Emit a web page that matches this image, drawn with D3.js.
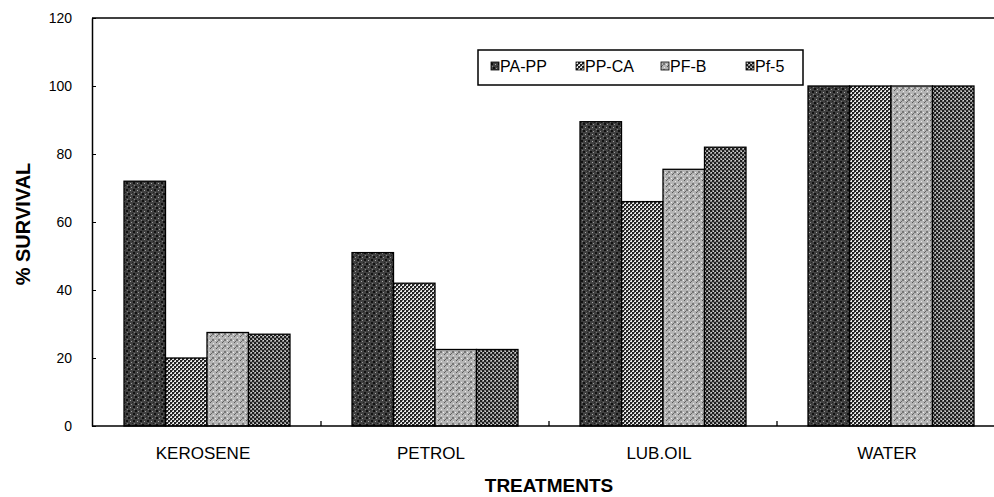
<!DOCTYPE html>
<html>
<head>
<meta charset="utf-8">
<script src="https://cdn.jsdelivr.net/npm/d3@7"></script>
<style>
  body { margin: 0; background: #fff; }
  svg { display: block; font-family: "Liberation Sans", Arial, sans-serif; }
</style>
</head>
<body>
<div id="chart"></div>
<script>
// data
var categories = ["KEROSENE", "PETROL", "LUB.OIL", "WATER"];
var series = ["PA-PP", "PP-CA", "PF-B", "Pf-5"];
var paPP = [72, 51, 89.5, 100];
var ppCA = [20, 42, 66, 100];
var pfB  = [27.5, 22.5, 75.5, 100];
var pf5  = [27, 22.5, 82, 100];
var yTicks = [0, 20, 40, 60, 80, 100, 120];

var values = [paPP, ppCA, pfB, pf5];
var rows = [];
categories.forEach(function (c, i) {
  series.forEach(function (s, j) {
    rows.push({cat: c, ser: s, val: values[j][i]});
  });
});

var W = 994, H = 497;
var svg = d3.select("#chart").append("svg").attr("width", W).attr("height", H);

// grey stipple fills, like the scanned print
var defs = svg.append("defs");
function pattern(id, base, size, dots) {
  var p = defs.append("pattern").attr("id", id)
    .attr("patternUnits", "userSpaceOnUse").attr("width", size).attr("height", size);
  p.append("rect").attr("width", size).attr("height", size).attr("fill", base);
  dots.forEach(function (d) {
    p.append("rect").attr("x", d[0]).attr("y", d[1]).attr("width", d[2]).attr("height", d[2]).attr("fill", d[3]);
  });
}
pattern("p0", "#404040", 7, [[0,0,2,"#111"],[4,1,1,"#aaa"],[2,4,2,"#111"],[5,5,1,"#999"],[1,3,1,"#808080"],[6,3,1,"#222"]]);
pattern("p1", "#e6e6e6", 4, [[0,0,2,"#222"],[2,2,2,"#222"],[2,0,1,"#666"],[0,2,1,"#666"]]);
pattern("p2", "#b4b4b4", 6, [[0,0,1,"#555"],[3,1,1,"#e8e8e8"],[2,3,2,"#777"],[5,4,1,"#eee"],[1,5,1,"#666"]]);
pattern("p3", "#8a8a8a", 4, [[0,0,2,"#1e1e1e"],[2,2,2,"#1e1e1e"],[3,0,1,"#cfcfcf"],[1,3,1,"#cfcfcf"]]);
var fills = {"PA-PP": "url(#p0)", "PP-CA": "url(#p1)", "PF-B": "url(#p2)", "Pf-5": "url(#p3)"};

var x0 = d3.scaleBand().domain(categories).range([93, 1005])
  .paddingInner(0.272).paddingOuter(0.136);
var x1 = d3.scaleBand().domain(series).range([0, x0.bandwidth()]);
var y = d3.scaleLinear().domain([0, 120]).range([426, 18]);

// bars
svg.append("g").selectAll("rect").data(rows).enter().append("rect")
  .attr("x", function (d) { return x0(d.cat) + x1(d.ser); })
  .attr("y", function (d) { return y(d.val); })
  .attr("width", x1.bandwidth())
  .attr("height", function (d) { return y(0) - y(d.val); })
  .attr("fill", function (d) { return fills[d.ser]; })
  .attr("stroke", "#000").attr("stroke-width", 1.3);

// frame: top line and axes
svg.append("line").attr("x1", 92).attr("x2", W).attr("y1", y(120)).attr("y2", y(120))
  .attr("stroke", "#000").attr("stroke-width", 1.5);

var yAxis = svg.append("g").attr("transform", "translate(92,0)")
  .call(d3.axisLeft(y).tickValues(yTicks).tickSize(-4).tickSizeOuter(0).tickPadding(20));
yAxis.select(".domain").attr("stroke-width", 1.5);
yAxis.selectAll("text").attr("font-size", "14px").attr("fill", "#000")
  .attr("font-family", "'Liberation Sans', Arial, sans-serif");

svg.append("line").attr("x1", 92).attr("x2", W).attr("y1", y(0)).attr("y2", y(0))
  .attr("stroke", "#000").attr("stroke-width", 1.5);

// small ticks between the groups
var gap = x0.step() * x0.paddingInner() / 2;
svg.append("g").selectAll("line").data(categories.slice(1)).enter().append("line")
  .attr("x1", function (d) { return x0(d) - gap; })
  .attr("x2", function (d) { return x0(d) - gap; })
  .attr("y1", y(0)).attr("y2", y(0) - 5)
  .attr("stroke", "#000").attr("stroke-width", 1.3);

svg.append("g").selectAll("text").data(categories).enter().append("text")
  .attr("x", function (d) { return x0(d) + x0.bandwidth() / 2 - 4; })
  .attr("y", 459)
  .attr("text-anchor", "middle").attr("font-size", "17px")
  .text(function (d) { return d; });

// axis titles
svg.append("text").attr("x", 549).attr("y", 492).attr("text-anchor", "middle")
  .attr("font-size", "19px").attr("font-weight", "bold").text("TREATMENTS");
svg.append("text").attr("transform", "translate(30,224) rotate(-90)")
  .attr("text-anchor", "middle").attr("font-size", "20px").attr("font-weight", "bold")
  .text("% SURVIVAL");

// legend
var leg = svg.append("g");
leg.append("rect").attr("x", 478).attr("y", 50).attr("width", 325).attr("height", 35)
  .attr("fill", "#fff").attr("stroke", "#000").attr("stroke-width", 1.5);
var li = leg.selectAll("g.item").data(series).enter().append("g")
  .attr("transform", function (d, i) { return "translate(" + (491 + i * 85) + ",0)"; });
li.append("rect").attr("x", 0).attr("y", 62).attr("width", 8).attr("height", 8)
  .attr("fill", function (d) { return fills[d]; }).attr("stroke", "#000").attr("stroke-width", 0.8);
li.append("text").attr("x", 9).attr("y", 72).attr("font-size", "16px").text(function (d) { return d; });
</script>
</body>
</html>
